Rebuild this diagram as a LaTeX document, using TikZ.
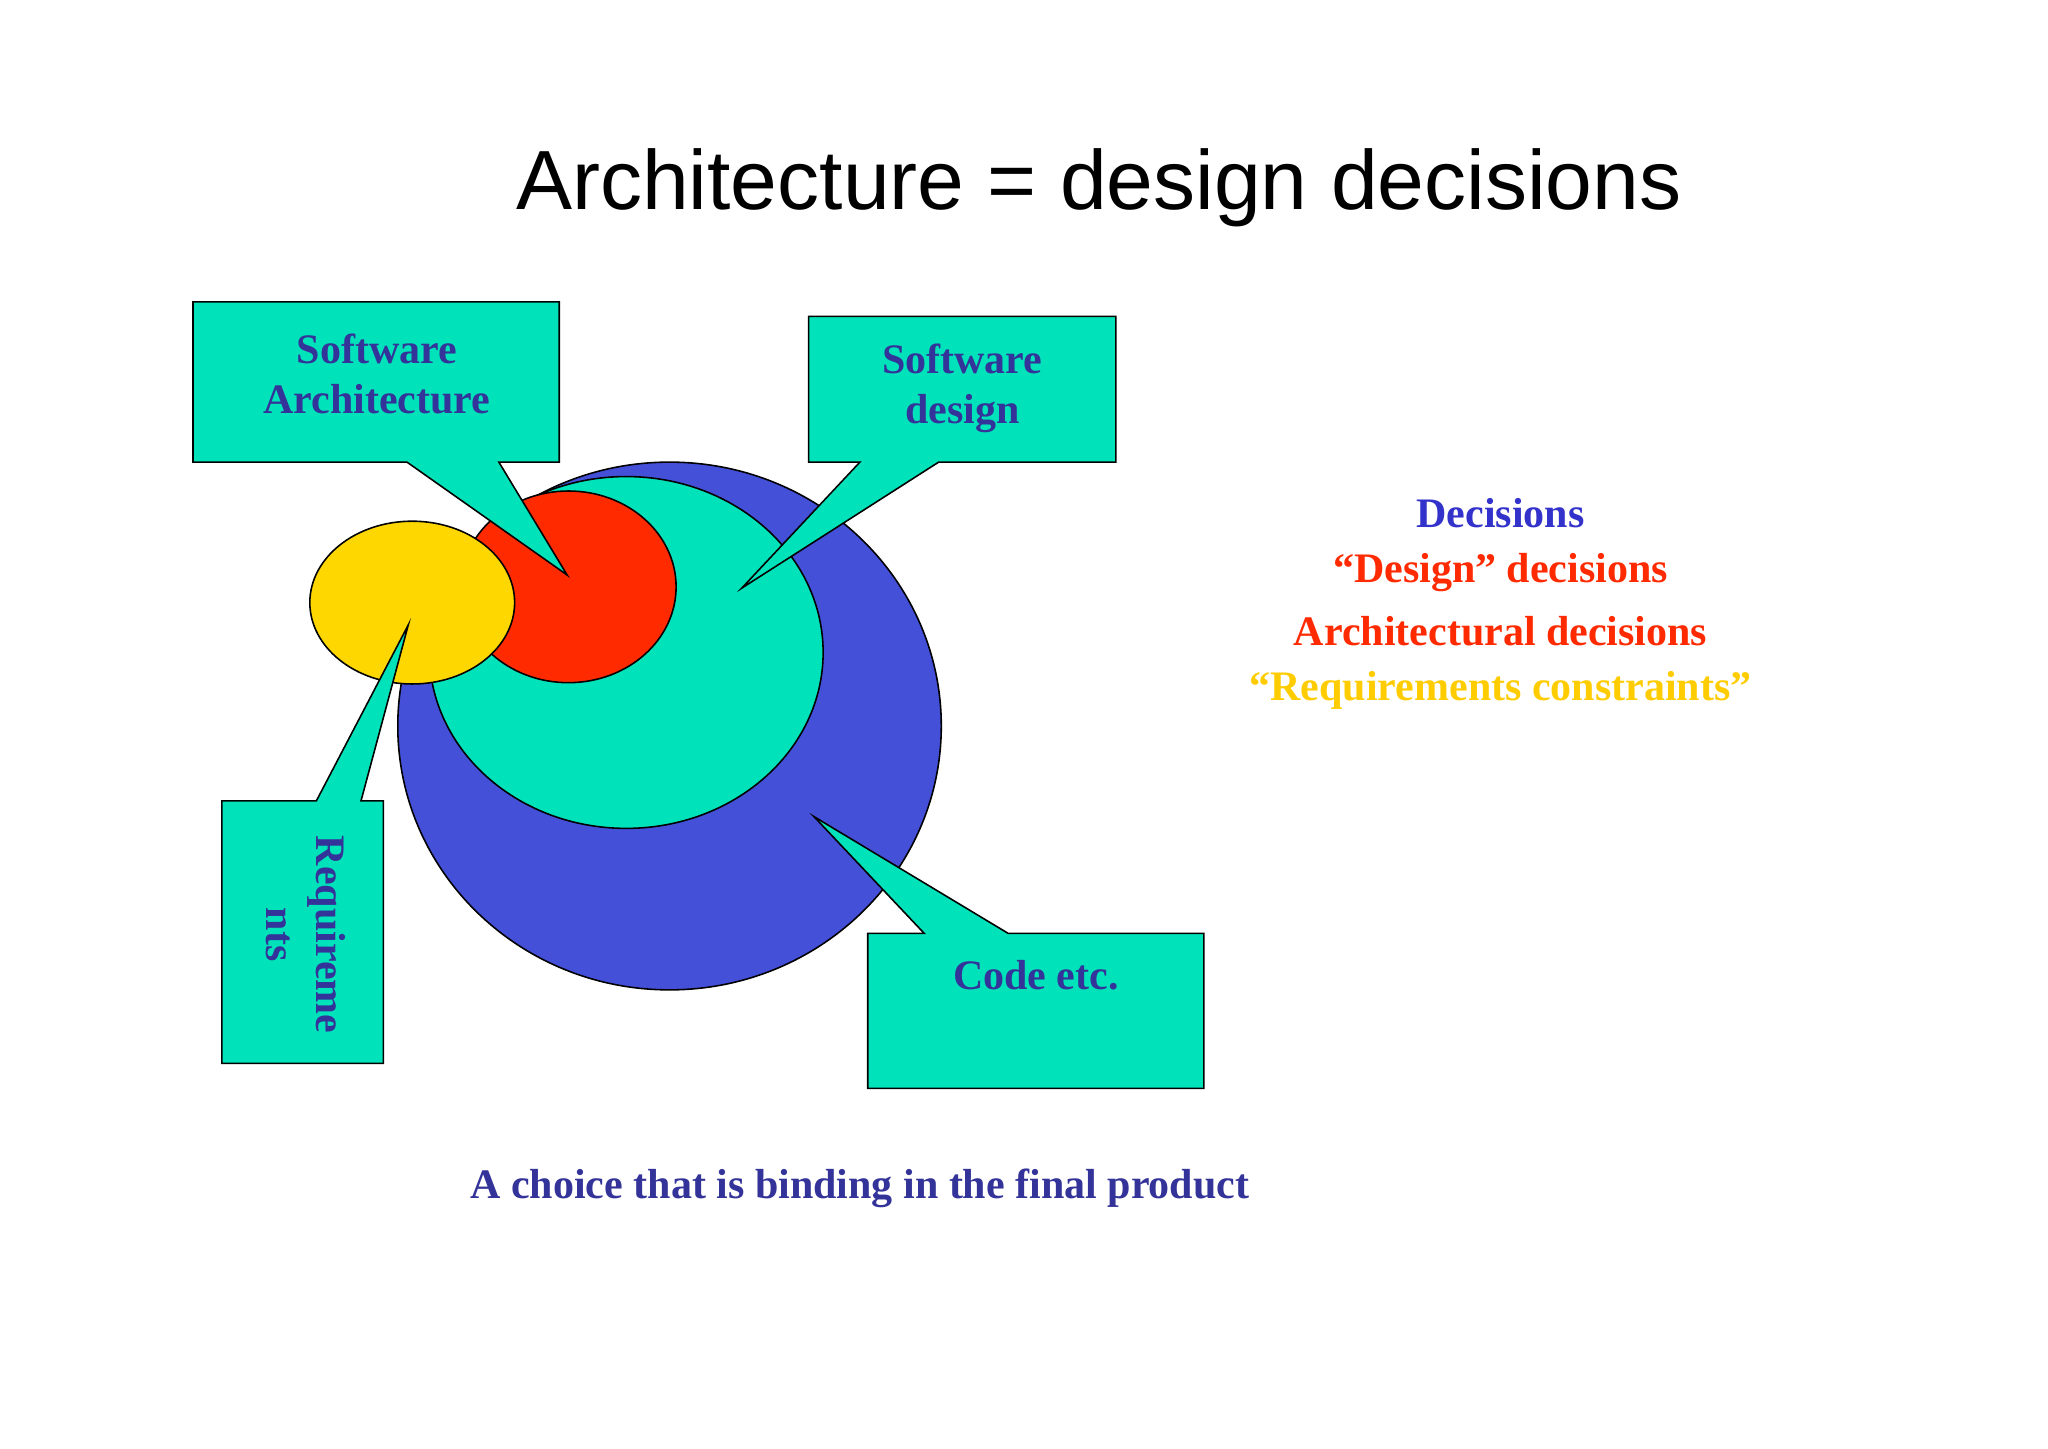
\documentclass[tikz,border=0pt]{standalone}
\usepackage{fontspec}
\setmainfont{Liberation Serif}
\newfontfamily\titlefont{Liberation Sans}
\begin{document}
\begin{tikzpicture}[x=0.5pt,y=-0.5pt]
\definecolor{tealc}{HTML}{00E3BA}
\definecolor{bluec}{HTML}{4450D8}
\definecolor{redc}{HTML}{FF2A00}
\definecolor{yelc}{HTML}{FFD700}
\definecolor{txtc}{HTML}{333399}
\tikzset{shp/.style={draw=black,line width=0.6pt},
 lab/.style={font=\fontsize{16}{19}\selectfont\bfseries,text=txtc,align=center},
 rt/.style={font=\fontsize{16}{22}\selectfont\bfseries}}
\useasboundingbox (0,0) rectangle (1560,1103);
\node (title) at (837,143) {\titlefont\fontsize{32}{38}\selectfont Architecture = design decisions};
\fill[shp,fill=bluec] (510,553) ellipse[x radius=207,y radius=201];
\fill[shp,fill=tealc] (477,497) ellipse[x radius=150,y radius=134];
\fill[shp,fill=redc] (433,447) ellipse[x radius=82,y radius=73];
\fill[shp,fill=yelc] (314,459) ellipse[x radius=78,y radius=62];
\fill[shp,fill=tealc] (147,230)--(426,230)--(426,352)--(380,352)--(432,438)--(310,352)--(147,352)--cycle;
\node[lab] (sa) at (287,285) {Software\\Architecture};
\fill[shp,fill=tealc] (616,241)--(850,241)--(850,352)--(715,352)--(565,448)--(655,352)--(616,352)--cycle;
\node[lab] (sd) at (733,296) {Software\\design};
\fill[shp,fill=tealc] (169,610)--(241,610)--(311,476)--(275,610)--(292,610)--(292,810)--(169,810)--cycle;
\node[lab,rotate=-90] (rq) at (233,712) {Requireme\\nts};
\fill[shp,fill=tealc] (661,711)--(704,711)--(620,622)--(768,711)--(917,711)--(917,829)--(661,829)--cycle;
\node[lab] (ce) at (789,743) {Code etc.};
\node[rt,text={rgb,255:red,51;green,51;blue,204}] (d1) at (1143,391) {Decisions};
\node[rt,text=redc] (d2) at (1143,436) {“Design” decisions};
\node[rt,text=redc] (d3) at (1143,481) {Architectural decisions};
\node[rt,text={rgb,255:red,255;green,204;blue,0}] (d4) at (1143,526) {“Requirements constraints”};
\node[rt,text=txtc] (bt) at (655,905) {A choice that is binding in the final product};
\end{tikzpicture}
\end{document}
